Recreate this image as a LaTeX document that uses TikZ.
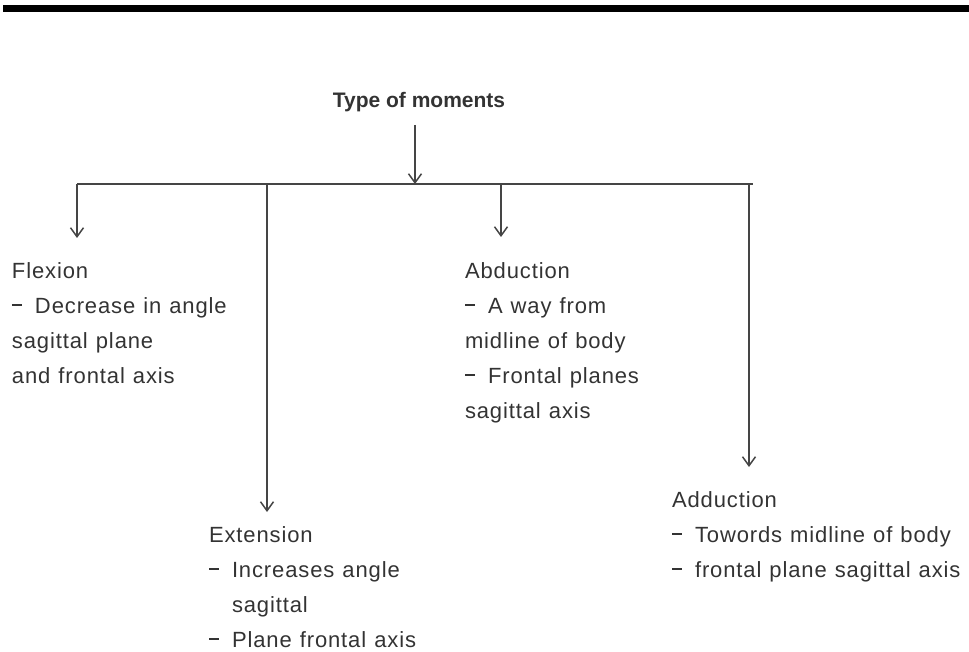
\documentclass[tikz,border=0pt]{standalone}
\usepackage{fontspec}
\setmainfont[LetterSpace=4,WordSpace=1.15]{Liberation Sans}
\newfontfamily\titlefont{Liberation Sans}
\usetikzlibrary{arrows.meta}
\definecolor{txt}{HTML}{333333}
\definecolor{ln}{HTML}{454545}
\newcommand{\dsh}{\rule[7pt]{10pt}{1.6pt}\hspace{13pt}}
\newcommand{\dshsp}{\hspace{23pt}}
\newcommand{\firstline}{\rule{0pt}{17pt}}
\tikzset{
  blk/.style={anchor=north west, inner sep=0pt, outer sep=0pt, align=left,
    font=\fontsize{22}{35}\selectfont, text=txt},
  ttl/.style={anchor=base, inner sep=0pt, font=\titlefont\bfseries\fontsize{21}{25}\selectfont, text=txt},
  conn/.style={draw=ln, line width=1.5pt},
  arr/.style={conn, -{Straight Barb[length=9pt,width=13pt,line width=1.5pt]}}
}
\begin{document}
\begin{tikzpicture}[x=1pt,y=-1pt]
\useasboundingbox (0,0) rectangle (969,652);
\fill[black] (3,5) rectangle (969,12);

\node[ttl] (title) at (419,108) {Type of moments};

\coordinate (top) at (415,125);
\coordinate (bus) at (415,184);
\coordinate (busL) at (77,184);
\coordinate (busR) at (753,184);
\coordinate (bE) at (267,184);
\coordinate (bA) at (501,184);
\coordinate (bD) at (749,184);

\coordinate (tF) at (77,238);
\coordinate (tE) at (267,512);
\coordinate (tA) at (501,237);
\coordinate (tD) at (749,467);

\draw[arr] (top) -- (bus);
\draw[conn] (busL) -- (busR);
\draw[arr] (busL) -- (tF);
\draw[arr] (bE) -- (tE);
\draw[arr] (bA) -- (tA);
\draw[arr] (bD) -- (tD);

\node[blk] (flex) at (12,261) {\firstline Flexion\\ \dsh Decrease in angle\\ sagittal plane\\ and frontal axis};
\node[blk] (abd) at (465,261) {\firstline Abduction\\ \dsh A way from\\ midline of body\\ \dsh Frontal planes\\ sagittal axis};
\node[blk] (ext) at (209,525) {\firstline Extension\\ \dsh Increases angle\\ \dshsp sagittal\\ \dsh Plane frontal axis};
\node[blk] (add) at (672,490) {\firstline Adduction\\ \dsh Towords midline of body\\ \dsh frontal plane sagittal axis};
\end{tikzpicture}
\end{document}
